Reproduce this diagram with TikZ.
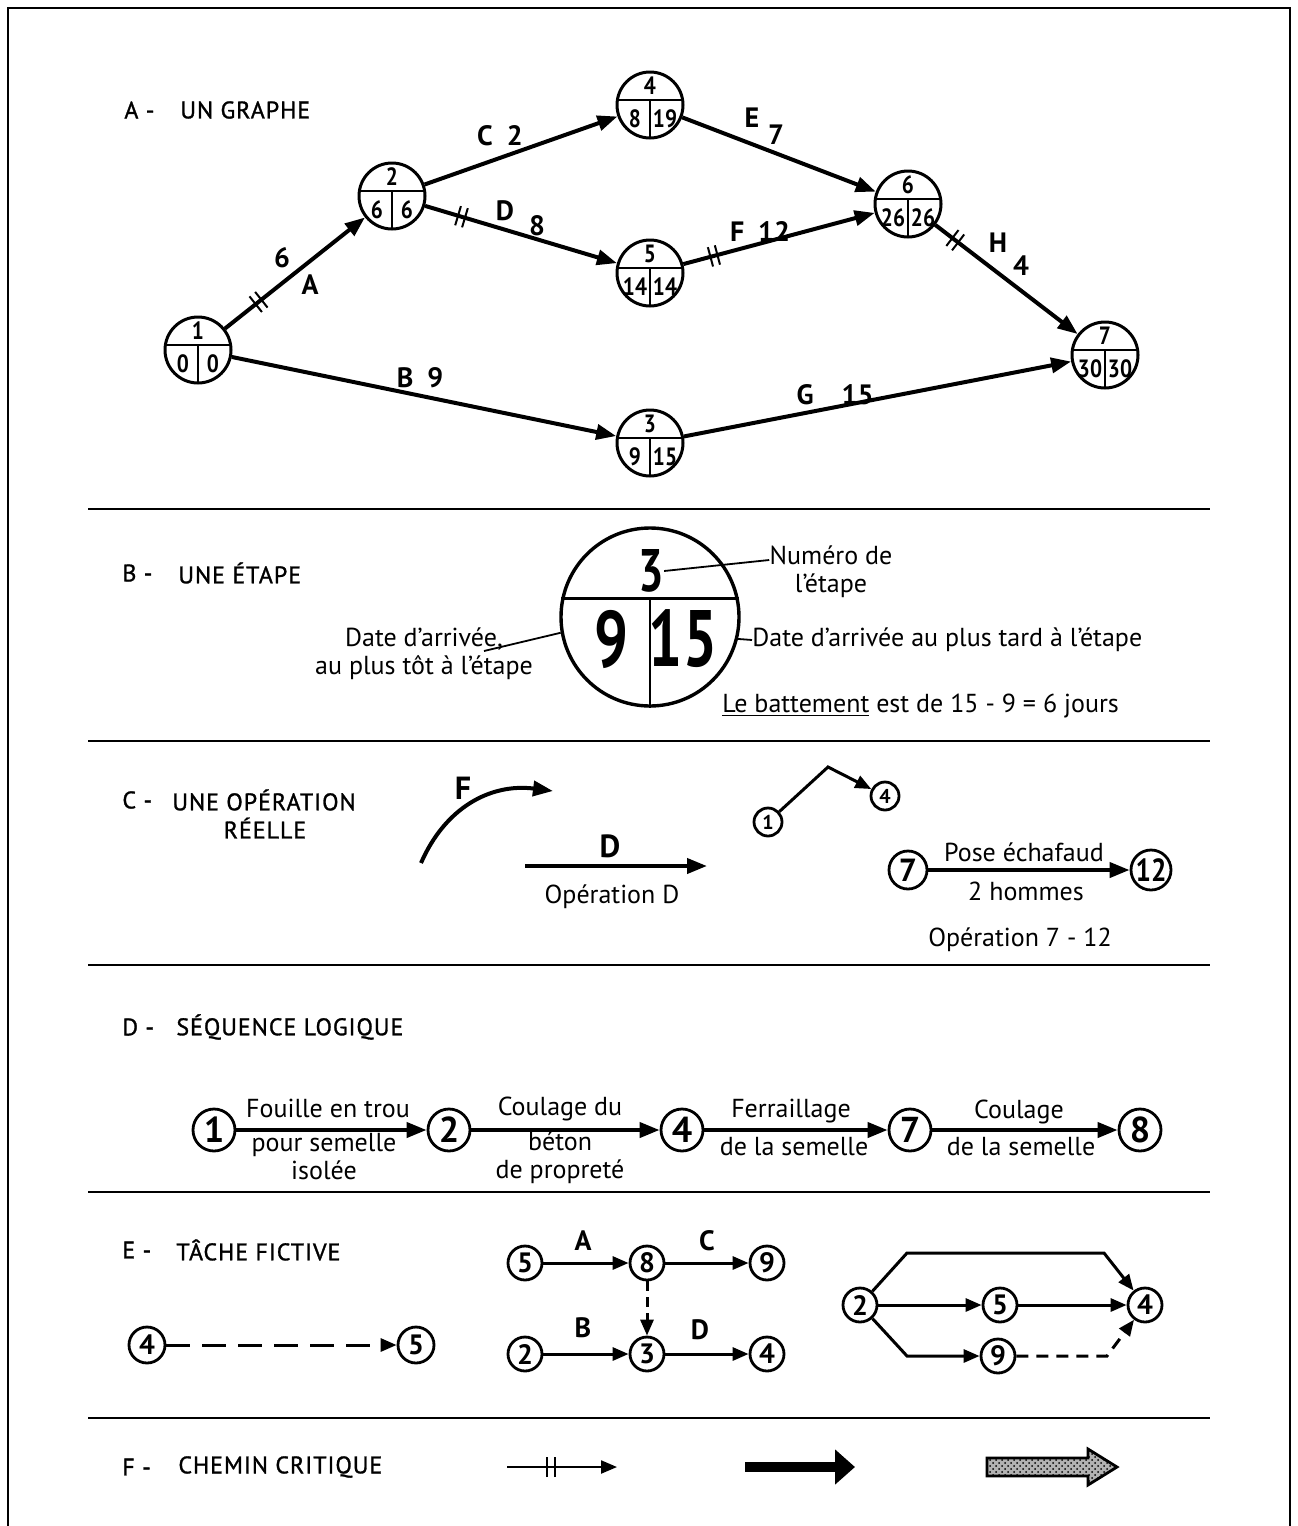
\documentclass[tikz,border=0pt]{standalone}
\usepackage{fontspec}
\setmainfont{PT Sans}
\newfontfamily\titrefont{PT Sans}[LetterSpace=4, FakeBold=1.2]
\newfontfamily\chiffrefont{PT Sans Bold}[FakeStretch=0.85]
\newfontfamily\grosfont{PT Sans Bold}[FakeStretch=0.75]
\usetikzlibrary{arrows.meta,positioning,calc,decorations.markings,patterns}

% etape a trois cases : numero, date au plus tot, date au plus tard
\newcommand{\etape}[5]{%
  \node[etape] (#1) at (#2) {};
  \node[chiffre] (#1-num) at ([yshift=9.5pt]#1.center) {#3};
  \node[chiffre] (#1-tot) at ([shift={(-7.5pt,-7pt)}]#1.center) {#4};
  \node[chiffre] (#1-tard) at ([shift={(7.5pt,-7pt)}]#1.center) {#5};
}

\begin{document}
\begin{tikzpicture}[x=0.5pt, y=-0.5pt,
  titre/.style={font=\titrefont\fontsize{12}{14}\selectfont, anchor=west, inner sep=0pt},
  texte/.style={font=\fontsize{13}{14}\selectfont, align=center, inner sep=0pt},
  lbl/.style={font=\bfseries\fontsize{14}{14}\selectfont, inner sep=0pt},
  chiffre/.style={font=\chiffrefont\fontsize{12.5}{12}\selectfont, inner sep=0pt},
  gros/.style={font=\grosfont\fontsize{40}{40}\selectfont, inner sep=0pt},
  etape/.style={circle, draw, line width=1.5pt, minimum size=33pt, inner sep=0pt,
    path picture={
      \draw[line width=1pt] ([yshift=2.5pt]path picture bounding box.west)
        -- ([yshift=2.5pt]path picture bounding box.east);
      \draw[line width=1pt] ([yshift=2.5pt]path picture bounding box.center)
        -- (path picture bounding box.south);}},
  grande/.style={circle, draw, line width=1.7pt, minimum size=89pt, inner sep=0pt},
  evt/.style={circle, draw, line width=1.4pt, minimum size=#1, inner sep=0pt},
  fleche/.style={line width=2pt, -{Triangle[length=10pt,width=7.5pt]}},
  fleche fine/.style={line width=1.5pt, -{Triangle[length=8pt,width=6.5pt]}},
  fictive/.style={fleche fine, dash pattern=on 12pt off 6pt},
  trait/.style={line width=0.9pt},
  critique/.style={postaction={decorate}, decoration={markings,
    mark=at position #1 with {\draw[-, line width=1pt] (-1.8pt,-5pt) -- (-1.8pt,5pt)
      (1.8pt,-5pt) -- (1.8pt,5pt);}}},
  critique/.default=0.2]
\useasboundingbox (0,0) rectangle (1297,1526);

% cadre et separations
\draw[line width=1.1pt] (8,1526) -- (8,8) -- (1290,8) -- (1290,1526);
\foreach \y in {509,741,965,1192,1418}
  \draw[line width=1pt] (88,\y) -- (1210,\y);

% A - un graphe
\node[titre] (tA) at (124,110) {A -};
\node[titre] (nomA) at (180,110) {UN GRAPHE};
\etape{n1}{198,350}{1}{0}{0}
\etape{n2}{392,196}{2}{6}{6}
\etape{n4}{650,105}{4}{8}{19}
\etape{n5}{650,273}{5}{14}{14}
\etape{n3}{650,443}{3}{9}{15}
\etape{n6}{908,204}{6}{26}{26}
\etape{n7}{1105,355}{7}{30}{30}
\draw[fleche, critique=0.24] (n1) -- (n2);
\draw[fleche] (n1) -- (n3);
\draw[fleche] (n2) -- (n4);
\draw[fleche, critique=0.19] (n2) -- (n5);
\draw[fleche] (n4) -- (n6);
\draw[fleche, critique=0.16] (n5) -- (n6);
\draw[fleche] (n3) -- (n7);
\draw[fleche, critique=0.14] (n6) -- (n7);
\node[lbl] (lA6) at (282,258) {6};
\node[lbl] (lA) at (310,285) {A};
\node[lbl] (lB) at (420,378) {B\enspace 9};
\node[lbl] (lC) at (500,136) {C\enspace 2};
\node[lbl] (lD) at (505,211) {D};
\node[lbl] (lD8) at (537,226) {8};
\node[lbl] (lE) at (752,118) {E};
\node[lbl] (lE7) at (776,135) {7};
\node[lbl] (lF) at (760,231) {F\enspace 12};
\node[lbl] (lG) at (835,395) {G\quad 15};
\node[lbl] (lH) at (998,243) {H};
\node[lbl] (lH4) at (1021,266) {4};

% B - une etape
\node[titre] (tB) at (122,573) {B -};
\node[titre] (nomB) at (178,573) {UNE ÉTAPE};
\node[grande] (eB) at (650,617) {};
\draw[line width=1.4pt] (eB.168) -- (eB.12);
\draw[line width=1.4pt] (eB.south) -- (eB.south |- eB.12);
\node[gros, font=\grosfont\fontsize{30}{30}\selectfont] (b3) at (651,571) {3};
\node[gros] (b9) at (612,639) {9};
\node[gros] (b15) at (683,639) {15};
\node[texte] (numero) at (831,572) {Numéro de\\l'étape};
\draw[trait] (b3.east) -- ([yshift=6pt]numero.west);
\node[texte] (tot) at (424,654) {Date d'arrivée,\\au plus tôt à l'étape};
\coordinate (tot-fin) at (484,651);
\draw[trait] (tot-fin) -- (eB.190);
\node[texte, anchor=west] (tard) at (752,640) {Date d'arrivée au plus tard à l'étape};
\draw[trait] (eB.-14) -- (tard.west);
\node[texte, anchor=west] (battement) at (722,706) {\underline{Le battement} est de 15 - 9 = 6 jours};

% C - une operation reelle
\node[titre] (tC) at (122,800) {C -};
\node[titre] (nomC) at (172,800) {UNE OPÉRATION};
\node[titre, anchor=center] (nomC2) at (265,828) {RÉELLE};
\coordinate (f-deb) at (421,863);
\coordinate (f-fin) at (553,791);
\draw[fleche] (f-deb) .. controls (445,808) and (490,783) .. (f-fin);
\node[lbl, font=\bfseries\fontsize{16}{16}\selectfont] (cF) at (463,788) {F};
\coordinate (d-deb) at (525,866);
\coordinate (d-fin) at (707,866);
\draw[fleche] (d-deb) -- (d-fin);
\node[lbl, font=\bfseries\fontsize{16}{16}\selectfont] (cD) at (610,846) {D};
\node[texte] (opD) at (612,897) {Opération D};
\node[evt=14pt, font=\bfseries\fontsize{10}{10}\selectfont] (c1) at (768,822) {1};
\node[evt=14pt, font=\bfseries\fontsize{10}{10}\selectfont] (c4) at (885,796) {4};
\coordinate (coude) at (828,767);
\draw[fleche fine] (c1) -- (coude) -- (c4);
\node[evt=19pt, font=\bfseries\fontsize{16}{16}\selectfont] (c7) at (908,870) {7};
\node[evt=20pt, font=\chiffrefont\fontsize{16}{16}\selectfont] (c12) at (1151,870) {12};
\draw[fleche] (c7) -- (c12);
\node[texte] (pose) at (1024,852) {Pose échafaud};
\node[texte] (hommes) at (1026,891) {2 hommes};
\node[texte] (op712) at (1020,940) {Opération 7 - 12};

% D - sequence logique
\node[titre] (tD) at (122,1027) {D -};
\node[titre] (nomD) at (176,1027) {SÉQUENCE LOGIQUE};
\foreach \n/\x in {1/214,2/449,4/682,7/910,8/1140}
  \node[evt=21pt, font=\bfseries\fontsize{18}{18}\selectfont] (d\n) at (\x,1130) {\n};
\draw[fleche] (d1) -- (d2);
\draw[fleche] (d2) -- (d4);
\draw[fleche] (d4) -- (d7);
\draw[fleche] (d7) -- (d8);
\node[texte] (fouille) at (328,1108) {Fouille en trou};
\node[texte] (semelle) at (324,1157) {pour semelle\\isolée};
\node[texte] (coulage) at (560,1109) {Coulage du};
\node[texte] (beton) at (560,1158) {béton\\de propreté};
\node[texte] (ferr) at (791,1111) {Ferraillage};
\node[texte] (ferr2) at (794,1147) {de la semelle};
\node[texte] (coul) at (1019,1112) {Coulage};
\node[texte] (coul2) at (1021,1147) {de la semelle};

% E - tache fictive
\node[titre] (tE) at (122,1250) {E -};
\node[titre] (nomE) at (176,1250) {TÂCHE FICTIVE};
\begin{scope}[every node/.append style={font=\bfseries\fontsize{14}{14}\selectfont}]
  \node[evt=18pt] (e4) at (147,1345) {4};
  \node[evt=18pt] (e5) at (416,1345) {5};
  \node[evt=17pt] (ea5) at (525,1263) {5};
  \node[evt=17pt] (ea8) at (647,1263) {8};
  \node[evt=17pt] (ea9) at (767,1263) {9};
  \node[evt=17pt] (eb2) at (525,1354) {2};
  \node[evt=17pt] (eb3) at (647,1354) {3};
  \node[evt=17pt] (eb4) at (767,1354) {4};
  \node[evt=17pt] (er2) at (860,1305) {2};
  \node[evt=17pt] (er5) at (1000,1305) {5};
  \node[evt=17pt] (er4) at (1145,1305) {4};
  \node[evt=17pt] (er9) at (998,1356) {9};
\end{scope}
\draw[fictive] (e4) -- (e5);
\draw[fleche fine] (ea5) -- (ea8);
\draw[fleche fine] (ea8) -- (ea9);
\draw[fleche fine] (eb2) -- (eb3);
\draw[fleche fine] (eb3) -- (eb4);
\draw[fictive, dash pattern=on 5pt off 3pt] (ea8) -- (eb3);
\node[lbl] (eA) at (583,1241) {A};
\node[lbl] (eC) at (707,1241) {C};
\node[lbl] (eB) at (583,1328) {B};
\node[lbl] (eD) at (700,1330) {D};
\coordinate (haut-g) at (907,1253);
\coordinate (haut-d) at (1104,1253);
\coordinate (bas-g) at (907,1356);
\coordinate (bas-d) at (1107,1356);
\draw[fleche fine] (er2) -- (haut-g) -- (haut-d) -- (er4);
\draw[fleche fine] (er2) -- (er5);
\draw[fleche fine] (er5) -- (er4);
\draw[fleche fine] (er2) -- (bas-g) -- (er9);
\draw[fictive, dash pattern=on 6pt off 4pt] (er9) -- (bas-d) -- (er4);

% F - chemin critique
\node[titre] (tF) at (122,1467) {F -};
\node[titre] (nomF) at (178,1467) {CHEMIN CRITIQUE};
\coordinate (c1-deb) at (507,1467);
\coordinate (c1-fin) at (617,1467);
\draw[fleche fine, line width=1.1pt, critique=0.4] (c1-deb) -- (c1-fin);
\coordinate (c2-deb) at (745,1467);
\coordinate (c2-fin) at (855,1467);
\draw[line width=5pt, -{Triangle[length=10pt,width=17pt]}] (c2-deb) -- (c2-fin);
\draw[line width=1.4pt, preaction={fill=gray!60}, pattern=crosshatch dots]
  (987,1458) -- (1088,1458) -- (1088,1449) -- (1117,1467) -- (1088,1485)
  -- (1088,1476) -- (987,1476) -- cycle;
\end{tikzpicture}
\end{document}
